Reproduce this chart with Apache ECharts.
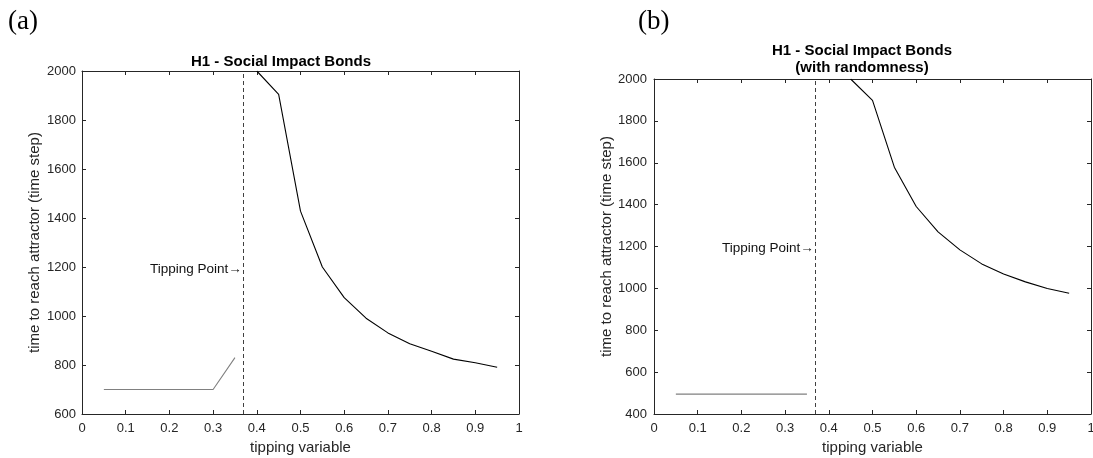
<!DOCTYPE html>
<html>
<head>
<meta charset="utf-8">
<script src="https://cdn.jsdelivr.net/npm/echarts@6/dist/echarts.min.js"></script>
<style>
html,body{margin:0;padding:0;background:#fff;}
#chart{width:1093px;height:458px;}
</style>
</head>
<body>
<div id="chart"></div>
<script>
// ---- data ----
const xTicks = [0, 0.1, 0.2, 0.3, 0.4, 0.5, 0.6, 0.7, 0.8, 0.9, 1];
const lowX = [0.05, 0.10, 0.15, 0.20, 0.25, 0.30, 0.35];
const aLow = [700, 700, 700, 700, 700, 700, 830];
const aHighX = [0.40, 0.45, 0.50, 0.55, 0.60, 0.65, 0.70, 0.75, 0.80, 0.85, 0.90, 0.95];
const aHigh = [2000, 1905, 1428, 1200, 1075, 991, 931, 887, 856, 824, 809, 791];
const bLow = [495, 495, 495, 495, 495, 495, 495];
const bHighX = [0.45, 0.50, 0.55, 0.60, 0.65, 0.70, 0.75, 0.80, 0.85, 0.90, 0.95];
const bHigh = [2000, 1898, 1579, 1391, 1270, 1184, 1117, 1069, 1031, 999, 977];
const tippingPoint = 0.366;
const tippingLabelY = 1190;
const yRangeA = [600, 2000];
const yRangeB = [400, 2000];
const titleA = ['H1 - Social Impact Bonds'];
const titleB = ['H1 - Social Impact Bonds', '(with randomness)'];
const xName = 'tipping variable';
const yName = 'time to reach attractor (time step)';
const tipLabel = 'Tipping Point\u2192';

const pairs = (xs, ys) => xs.map((x, i) => [x, ys[i]]);

const FONT = "'Liberation Sans', Arial, Helvetica, sans-serif";
const TXT = '#262626';

function xAxes(gi) {
  const base = {
    type: 'value', gridIndex: gi, min: 0, max: 1, interval: 0.1,
    splitLine: {show: false},
    axisLine: {show: true, onZero: false, lineStyle: {color: TXT, width: 1}},
    axisTick: {show: true, inside: true, length: 4, lineStyle: {color: TXT}}
  };
  return [
    Object.assign({}, base, {
      position: 'bottom', name: xName, nameLocation: 'middle', nameGap: 26,
      nameTextStyle: {fontFamily: FONT, fontSize: 15, color: TXT},
      axisLabel: {show: true, margin: 8, fontFamily: FONT, fontSize: 13, color: TXT,
        formatter: v => String(Math.round(v * 10) / 10)}
    }),
    Object.assign({}, base, {position: 'top', axisLabel: {show: false}})
  ];
}
function yAxes(gi, range, gap, margin) {
  const base = {
    type: 'value', gridIndex: gi, min: range[0], max: range[1], interval: 200,
    splitLine: {show: false},
    axisLine: {show: true, onZero: false, lineStyle: {color: TXT, width: 1}},
    axisTick: {show: true, inside: true, length: 4, lineStyle: {color: TXT}}
  };
  return [
    Object.assign({}, base, {
      position: 'left', name: yName, nameLocation: 'middle', nameGap: gap,
      nameTextStyle: {fontFamily: FONT, fontSize: 15, color: TXT},
      axisLabel: {show: true, margin: margin, fontFamily: FONT, fontSize: 13, color: TXT,
        formatter: v => String(v)}
    }),
    Object.assign({}, base, {position: 'right', axisLabel: {show: false}})
  ];
}

function tipSeries(xi, yi) {
  return [{
    type: 'line', xAxisIndex: xi, yAxisIndex: yi, data: [], silent: true,
    markLine: {
      silent: true, symbol: ['none', 'none'], label: {show: false},
      lineStyle: {type: [4, 3], color: '#404040', width: 1},
      data: [{xAxis: tippingPoint}]
    }
  }, {
    type: 'scatter', xAxisIndex: xi, yAxisIndex: yi, silent: true,
    data: [[tippingPoint, tippingLabelY]], symbol: 'circle', symbolSize: 0.5,
    itemStyle: {color: 'rgba(0,0,0,0)'},
    label: {show: true, position: 'left', distance: 0, formatter: tipLabel,
      fontFamily: FONT, fontSize: 13.5, color: '#111111', opacity: 1}
  }];
}

const chart = echarts.init(document.getElementById('chart'), null, {renderer: 'canvas'});
chart.setOption({
  animation: false,
  backgroundColor: '#ffffff',
  grid: [
    {left: 82, top: 71, width: 437, height: 343, outerBoundsMode: 'none', containLabel: false},
    {left: 654, top: 79, width: 437, height: 335, outerBoundsMode: 'none', containLabel: false}
  ],
  xAxis: [].concat(xAxes(0), xAxes(1)),
  yAxis: [].concat(yAxes(0, yRangeA, 40, 6), yAxes(1, yRangeB, 39, 7)),
  series: [
    {type: 'line', xAxisIndex: 0, yAxisIndex: 0, data: pairs(lowX, aLow), showSymbol: false,
      lineStyle: {color: '#808080', width: 1.1}},
    {type: 'line', xAxisIndex: 0, yAxisIndex: 0, data: pairs(aHighX, aHigh), showSymbol: false,
      lineStyle: {color: '#000000', width: 1.1}},
    ...tipSeries(0, 0),
    {type: 'line', xAxisIndex: 2, yAxisIndex: 2, data: pairs(lowX, bLow), showSymbol: false,
      lineStyle: {color: '#808080', width: 1.1}},
    {type: 'line', xAxisIndex: 2, yAxisIndex: 2, data: pairs(bHighX, bHigh), showSymbol: false,
      lineStyle: {color: '#000000', width: 1.1}},
    ...tipSeries(2, 2)
  ],
  graphic: [
    {type: 'text', x: 8, y: 22, style: {text: '(a)', font: "27px 'Liberation Serif', 'Times New Roman', serif",
      fill: '#000', textVerticalAlign: 'middle'}},
    {type: 'text', x: 638, y: 22, style: {text: '(b)', font: "27px 'Liberation Serif', 'Times New Roman', serif",
      fill: '#000', textVerticalAlign: 'middle'}},
    {type: 'text', x: 281, y: 62, style: {text: titleA[0], font: "bold 15px " + FONT, fill: '#000',
      textAlign: 'center', textVerticalAlign: 'middle'}},
    {type: 'text', x: 862, y: 51, style: {text: titleB[0], font: "bold 15px " + FONT, fill: '#000',
      textAlign: 'center', textVerticalAlign: 'middle'}},
    {type: 'text', x: 862, y: 68, style: {text: titleB[1], font: "bold 15px " + FONT, fill: '#000',
      textAlign: 'center', textVerticalAlign: 'middle'}}
  ]
});
</script>
</body>
</html>
